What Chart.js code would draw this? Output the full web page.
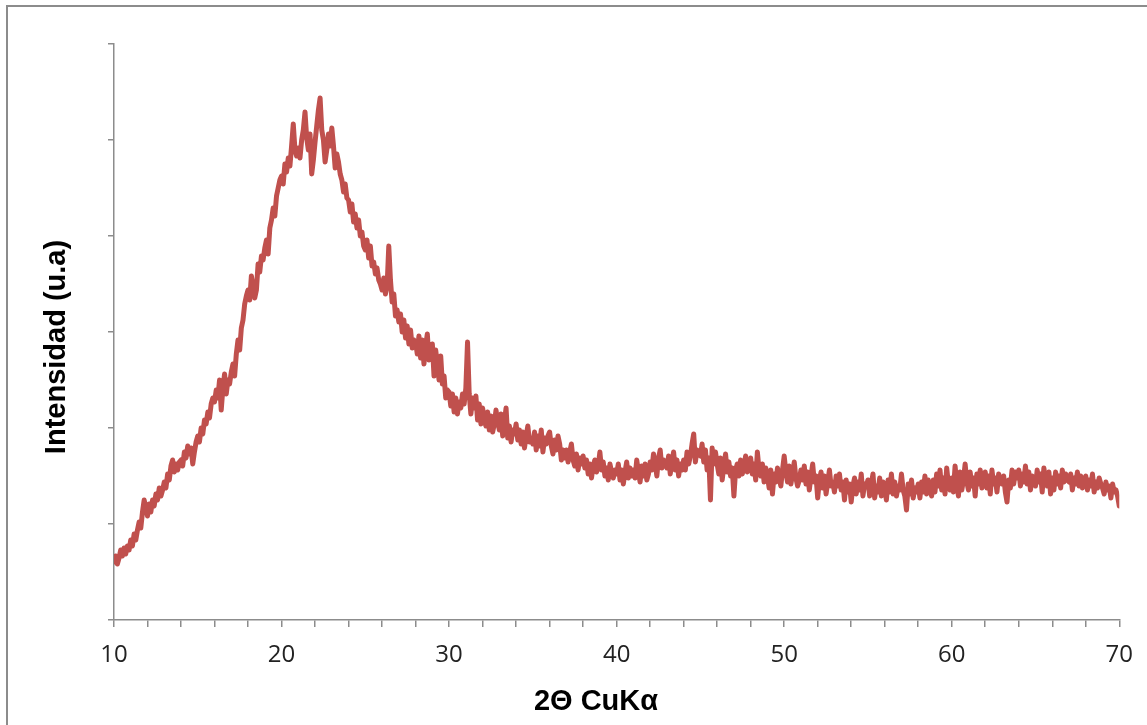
<!DOCTYPE html>
<html>
<head>
<meta charset="utf-8">
<script src="https://cdn.jsdelivr.net/npm/chart.js@4"></script>
<style>
  html, body { margin: 0; padding: 0; background: #fff; overflow: hidden; }
  #wrap { position: relative; width: 1147px; height: 725px; }
  #frame {
    position: absolute; left: 6px; top: 5px; width: 1400px; height: 900px;
    border-top: 2px solid #8c8c8c; border-left: 2px solid #8c8c8c;
    pointer-events: none;
  }
  canvas { position: absolute; left: 0; top: 0; }
</style>
</head>
<body>
<div id="wrap">
  <canvas id="chart" width="1147" height="725"></canvas>
  <div id="frame"></div>
</div>
<script>
/* ─── DATA ───────────────────────────────────────────── */
const startAngle = 10;
const stepAngle  = 0.1;

// intensity (u.a.), one row per degree 2θ, samples every 0.1°
const intensity = [
  58, 64, 56, 62, 70, 64, 72, 66, 74, 70,            // 10
  80, 74, 86, 80, 90, 98, 92, 108, 120, 112,         // 11
  104, 116, 108, 120, 114, 126, 120, 132, 124, 130,  // 12
  138, 132, 146, 140, 154, 160, 148, 156, 150, 158,  // 13
  160, 154, 168, 162, 174, 166, 172, 156, 168, 178,  // 14
  184, 178, 192, 186, 200, 196, 208, 202, 216, 222,  // 15
  218, 230, 222, 240, 210, 232, 246, 226, 240, 236,  // 16
  248, 256, 244, 266, 280, 270, 292, 300, 316, 324,  // 17
  330, 320, 344, 334, 322, 330, 356, 348, 364, 360,  // 18
  372, 380, 366, 392, 400, 412, 404, 424, 432, 440,  // 19
  444, 436, 456, 448, 462, 454, 474, 496, 470, 464,  // 20
  472, 462, 480, 490, 508, 482, 470, 486, 446, 460,  // 21
  478, 494, 510, 522, 490, 480, 458, 470, 486, 474,  // 22
  492, 474, 452, 466, 458, 446, 440, 428, 436, 422,  // 23
  420, 408, 416, 398, 406, 392, 400, 384, 388, 374,  // 24
  370, 380, 362, 374, 354, 358, 346, 352, 340, 336,  // 25
  330, 342, 326, 334, 374, 340, 318, 326, 304, 310,  // 26
  298, 306, 288, 300, 282, 294, 276, 290, 272, 280,  // 27
  278, 266, 284, 262, 280, 256, 274, 286, 260, 268,  // 28
  276, 244, 270, 256, 240, 264, 236, 244, 222, 230,  // 29
  228, 214, 226, 208, 222, 206, 218, 212, 226, 216,  // 30
  232, 278, 226, 206, 222, 212, 224, 200, 216, 196,  // 31
  212, 200, 194, 208, 190, 204, 188, 196, 210, 198,  // 32
  190, 206, 184, 198, 212, 182, 194, 178, 190, 186,  // 33
  196, 180, 190, 176, 188, 172, 184, 194, 178, 182,  // 34
  176, 188, 170, 184, 174, 190, 168, 182, 176, 184,  // 35
  188, 174, 166, 180, 170, 184, 176, 160, 170, 162,  // 36
  170, 158, 168, 176, 160, 154, 166, 150, 162, 156,  // 37
  164, 152, 160, 146, 156, 142, 154, 160, 148, 154,  // 38
  168, 150, 158, 144, 152, 140, 156, 148, 142, 150,  // 39
  146, 156, 140, 150, 136, 148, 158, 142, 152, 144,  // 40
  150, 142, 160, 148, 138, 154, 144, 156, 140, 146,  // 41
  158, 150, 166, 156, 144, 162, 170, 152, 160, 156,  // 42
  152, 164, 146, 158, 168, 150, 160, 144, 156, 150,  // 43
  160, 150, 168, 156, 164, 176, 186, 158, 170, 166,  // 44
  164, 176, 158, 170, 150, 162, 120, 172, 156, 168,  // 45
  156, 146, 162, 140, 154, 166, 148, 158, 144, 152,  // 46
  124, 150, 156, 144, 160, 146, 154, 164, 148, 150,  // 47
  162, 146, 156, 140, 168, 150, 144, 156, 138, 152,  // 48
  144, 132, 150, 126, 146, 138, 152, 142, 134, 150,  // 49
  164, 148, 138, 154, 136, 146, 158, 142, 134, 140,  // 50
  150, 140, 154, 136, 148, 130, 144, 156, 138, 144,  // 51
  122, 140, 148, 132, 144, 126, 138, 150, 134, 138,  // 52
  128, 144, 134, 146, 130, 138, 120, 140, 128, 136,  // 53
  118, 134, 142, 126, 138, 130, 146, 124, 136, 134,  // 54
  140, 124, 136, 146, 122, 134, 128, 142, 124, 138,  // 55
  132, 120, 140, 128, 146, 126, 138, 124, 134, 130,  // 56
  146, 130, 124, 110, 136, 126, 140, 122, 132, 128,  // 57
  136, 122, 138, 128, 144, 126, 140, 132, 124, 140,  // 58
  128, 146, 134, 150, 130, 142, 126, 152, 136, 130,  // 59
  142, 128, 154, 136, 124, 148, 130, 140, 156, 138,  // 60
  130, 148, 134, 142, 124, 146, 136, 150, 132, 138,  // 61
  148, 132, 144, 126, 150, 136, 142, 128, 146, 140,  // 62
  136, 144, 128, 118, 140, 132, 150, 136, 148, 142,  // 63
  150, 134, 146, 138, 154, 136, 148, 130, 144, 140,  // 64
  134, 150, 138, 146, 128, 152, 140, 134, 148, 126,  // 65
  142, 130, 148, 136, 144, 132, 150, 138, 146, 140,  // 66
  138, 146, 130, 142, 136, 148, 134, 144, 132, 140,  // 67
  144, 130, 140, 134, 146, 128, 138, 132, 142, 136,  // 68
  132, 126, 138, 130, 134, 122, 136, 128, 130, 124,  // 69
  114                                                // 70
];

const xMin = 10, xMax = 70, xStep = 2, xLabelEvery = 10;
const yMin = 0,  yMax = 576, yStep = 96;

const points = intensity.map((v, i) => ({
  x: +(startAngle + i * stepAngle).toFixed(1),
  y: v
}));

/* ─── AXIS TITLES ────────────────────────────────────── */
const axisTitles = {
  id: "axisTitles",
  afterDraw(chart) {
    const ctx = chart.ctx;
    ctx.save();
    ctx.fillStyle = "#000";
    ctx.font = "bold 29px 'Liberation Sans', Arial, sans-serif";
    ctx.textAlign = "center";
    ctx.textBaseline = "middle";
    ctx.fillText("2Θ CuKα", 596, 702);
    ctx.translate(57, 347);
    ctx.rotate(-Math.PI / 2);
    ctx.fillText("Intensidad (u.a)", 0, 0);
    ctx.restore();
  }
};

/* ─── CHART ──────────────────────────────────────────── */
const axisGray = "#8c8c8c";

new Chart(document.getElementById("chart"), {
  type: "line",
  data: {
    datasets: [{
      data: points,
      borderColor: "#C0504D",
      borderWidth: 5,
      borderJoinStyle: "round",
      borderCapStyle: "round",
      pointRadius: 0,
      tension: 0,
      fill: false,
    }]
  },
  options: {
    responsive: false,
    animation: false,
    events: [],
    layout: { padding: { top: 44, right: 27, bottom: 0, left: 0 } },
    plugins: {
      legend: { display: false },
      tooltip: { enabled: false },
    },
    scales: {
      x: {
        type: "linear",
        min: xMin,
        max: xMax,
        afterFit(scale) { scale.height = 105; },
        border: { display: true, color: axisGray, width: 1.5 },
        grid: { drawOnChartArea: false, drawTicks: true, tickLength: 7, color: axisGray, lineWidth: 1.5 },
        ticks: {
          stepSize: xStep,
          autoSkip: false,
          maxRotation: 0,
          padding: 14,
          color: "#222",
          font: { family: "'Open Sans', sans-serif", size: 24 },
          callback: v => (v % xLabelEvery === 0 ? v : ""),
        },
      },
      y: {
        min: yMin,
        max: yMax,
        afterFit(scale) { scale.width = 114; },
        border: { display: true, color: axisGray, width: 1.5 },
        grid: { drawOnChartArea: false, drawTicks: true, tickLength: 6, color: axisGray, lineWidth: 1.5 },
        ticks: {
          stepSize: yStep,
          callback: () => "",
        },
      },
    },
  },
  plugins: [axisTitles],
});
</script>
</body>
</html>
